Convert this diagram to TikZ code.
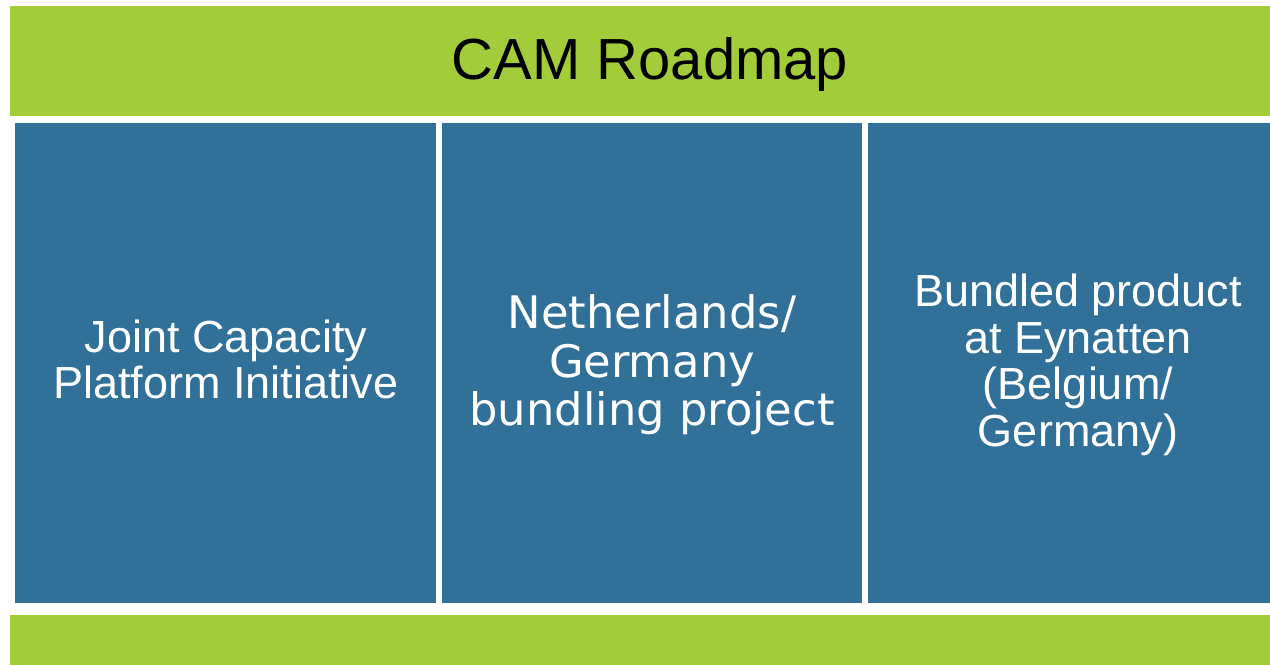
\documentclass[tikz,border=0pt]{standalone}
\usepackage{fontspec}
\setmainfont{Liberation Sans}
\newfontfamily\verdanafont{DejaVu Sans}
\definecolor{bandgreen}{RGB}{162,204,58}
\definecolor{boxblue}{RGB}{49,112,153}
\begin{document}
\begin{tikzpicture}[x=1pt,y=-1pt,
  band/.style={fill=bandgreen,draw=none},
  panel/.style={fill=boxblue,draw=none},
  paneltext/.style={text=white,align=center,inner sep=0pt,font=\fontsize{45}{46}\selectfont}]
\useasboundingbox (0,0) rectangle (1270,665);
\fill[white] (0,0) rectangle (1270,665);
\begin{scope}
\clip (0,0) rectangle (1270,665);
\path[band] (10,6) rectangle (1290,116);
\path[band] (10,615) rectangle (1290,665);
\path[panel] (15,123) rectangle (436,603);
\path[panel] (442,123) rectangle (862,603);
\path[panel] (868,123) rectangle (1288,603);
\end{scope}
\node[anchor=base,inner sep=0pt,font=\fontsize{58}{60}\selectfont] (title) at (650,79) {CAM Roadmap};
\node[paneltext] (p1) at (226,359) {Joint Capacity\\Platform Initiative};
\node[paneltext,font=\verdanafont\fontsize{44.8}{48.5}\selectfont] (p2) at (652,365) {Netherlands/\\Germany\\bundling project};
\node[paneltext,font=\fontsize{45}{46.5}\selectfont] (p3) at (1078,365) {Bundled product\\at Eynatten\\(Belgium/\\Germany)};
\end{tikzpicture}
\end{document}
